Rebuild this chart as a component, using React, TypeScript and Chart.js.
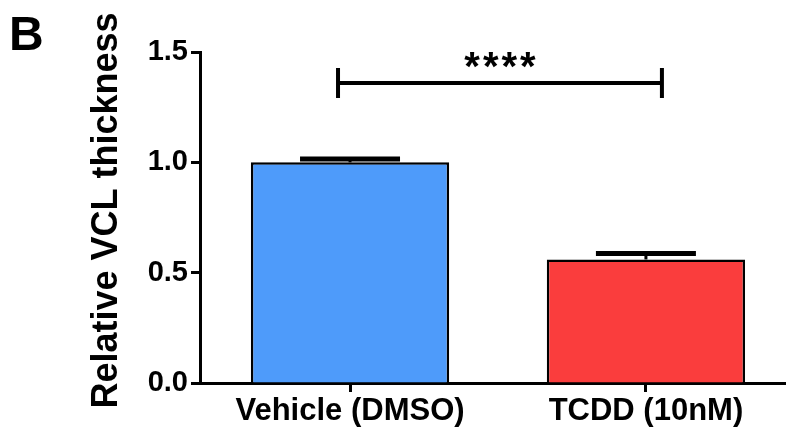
import React, { useEffect, useRef } from "react";
import { Chart, registerables } from "chart.js";

Chart.register(...registerables);

const categories = ["Vehicle (DMSO)", "TCDD (10nM)"];
const categoryIndex = [0, 1];
const means = [1.0, 0.56];
const errors = [0.015, 0.027];
const barColors = ["#4E9BFA", "#FA3D3D"];
const yTicks = [0, 0.5, 1.0, 1.5];
const sigLevel = 1.36;
const sigLabel = "****";
const panelLabel = "B";
const yTitle = "Relative VCL thickness";

const FONT = "'Liberation Sans', Arial, sans-serif";

const overlayPlugin = {
  id: "overlay",
  afterDatasetsDraw(chart: any) {
    const { ctx } = chart;
    const yScale = chart.scales.y;
    const meta = chart.getDatasetMeta(0);
    ctx.save();
    ctx.strokeStyle = "#000";
    ctx.lineCap = "butt";
    // error bars
    meta.data.forEach((bar: any, i: number) => {
      const x = bar.x;
      const yMean = yScale.getPixelForValue(means[i]);
      const yTop = yScale.getPixelForValue(means[i] + errors[i]);
      ctx.lineWidth = 3;
      ctx.beginPath();
      ctx.moveTo(x, yMean);
      ctx.lineTo(x, yTop);
      ctx.stroke();
      ctx.lineWidth = 5;
      ctx.beginPath();
      ctx.moveTo(x - 50, yTop);
      ctx.lineTo(x + 50, yTop);
      ctx.stroke();
    });
    // significance bracket
    const x0 = meta.data[0].x - 12;
    const x1 = meta.data[1].x + 16;
    const ys = yScale.getPixelForValue(sigLevel);
    ctx.lineWidth = 4;
    ctx.beginPath();
    ctx.moveTo(x0, ys);
    ctx.lineTo(x1, ys);
    ctx.stroke();
    ctx.beginPath();
    ctx.moveTo(x0, ys - 15);
    ctx.lineTo(x0, ys + 15);
    ctx.moveTo(x1, ys - 15);
    ctx.lineTo(x1, ys + 15);
    ctx.stroke();
    ctx.fillStyle = "#000";
    ctx.font = `bold 40px ${FONT}`;
    ctx.textAlign = "center";
    ctx.textBaseline = "middle";
    try {
      (ctx as any).letterSpacing = "3px";
    } catch (e) {}
    ctx.fillText(sigLabel, (x0 + x1) / 2 + 1.5, ys - 14);
    try {
      (ctx as any).letterSpacing = "0px";
    } catch (e) {}
    // panel label
    ctx.font = `bold 48px ${FONT}`;
    ctx.textAlign = "left";
    ctx.textBaseline = "alphabetic";
    ctx.fillText(panelLabel, 9, 50);
    // y axis title
    const area = chart.chartArea;
    ctx.translate(107, (area.top + area.bottom) / 2 - 7);
    ctx.rotate(-Math.PI / 2);
    ctx.font = `bold 36px ${FONT}`;
    ctx.textAlign = "center";
    ctx.textBaseline = "middle";
    ctx.fillText(yTitle, 0, 0);
    ctx.restore();
  },
};

export default function App() {
  const canvasRef = useRef<HTMLCanvasElement | null>(null);

  useEffect(() => {
    const canvas = canvasRef.current;
    if (!canvas) return;
    const chart = new Chart(canvas, {
      type: "bar",
      data: {
        datasets: [
          {
            data: categoryIndex.map((c, i) => ({ x: c, y: means[i] })),
            backgroundColor: barColors,
            borderColor: "#000",
            borderWidth: 2.5,
            borderSkipped: "bottom",
            barPercentage: 0.67,
            categoryPercentage: 1,
          },
        ],
      },
      options: {
        responsive: false,
        animation: false,
        layout: { padding: { top: 52, right: 2, left: 0, bottom: 0 } },
        plugins: { legend: { display: false }, tooltip: { enabled: false } },
        scales: {
          x: {
            type: "linear",
            offset: false,
            min: -0.507,
            max: 1.47,
            afterBuildTicks(scale: any) {
              scale.ticks = categoryIndex.map((v) => ({ value: v }));
            },
            grid: {
              offset: false,
              drawOnChartArea: false,
              drawTicks: true,
              tickLength: 9,
              tickWidth: 3,
              tickColor: "#000",
            },
            border: { display: true, color: "#000", width: 3 },
            ticks: {
              color: "#000",
              font: { family: FONT, size: 31, weight: "bold" },
              padding: 1,
              maxRotation: 0,
              autoSkip: false,
              callback: (v: any) => categories[Math.round(Number(v))] ?? "",
            },
            afterFit(scale: any) {
              scale.height = 51;
            },
          },
          y: {
            min: 0,
            max: 1.5,
            afterBuildTicks(scale: any) {
              scale.ticks = yTicks.map((v) => ({ value: v }));
            },
            grid: {
              drawOnChartArea: false,
              drawTicks: true,
              tickLength: 9,
              tickWidth: 3,
              tickColor: "#000",
            },
            border: { display: true, color: "#000", width: 3 },
            ticks: {
              color: "#000",
              font: { family: FONT, size: 29, weight: "bold" },
              padding: 3,
              callback: (v: any) => Number(v).toFixed(1),
            },
            afterFit(scale: any) {
              scale.width = 200;
            },
          },
        },
      },
      plugins: [overlayPlugin],
    });
    return () => chart.destroy();
  }, []);

  return (
    <div style={{ position: "fixed", left: 0, top: 0, width: 787, height: 434, background: "#fff" }}>
      <canvas ref={canvasRef} width={787} height={434} />
    </div>
  );
}
